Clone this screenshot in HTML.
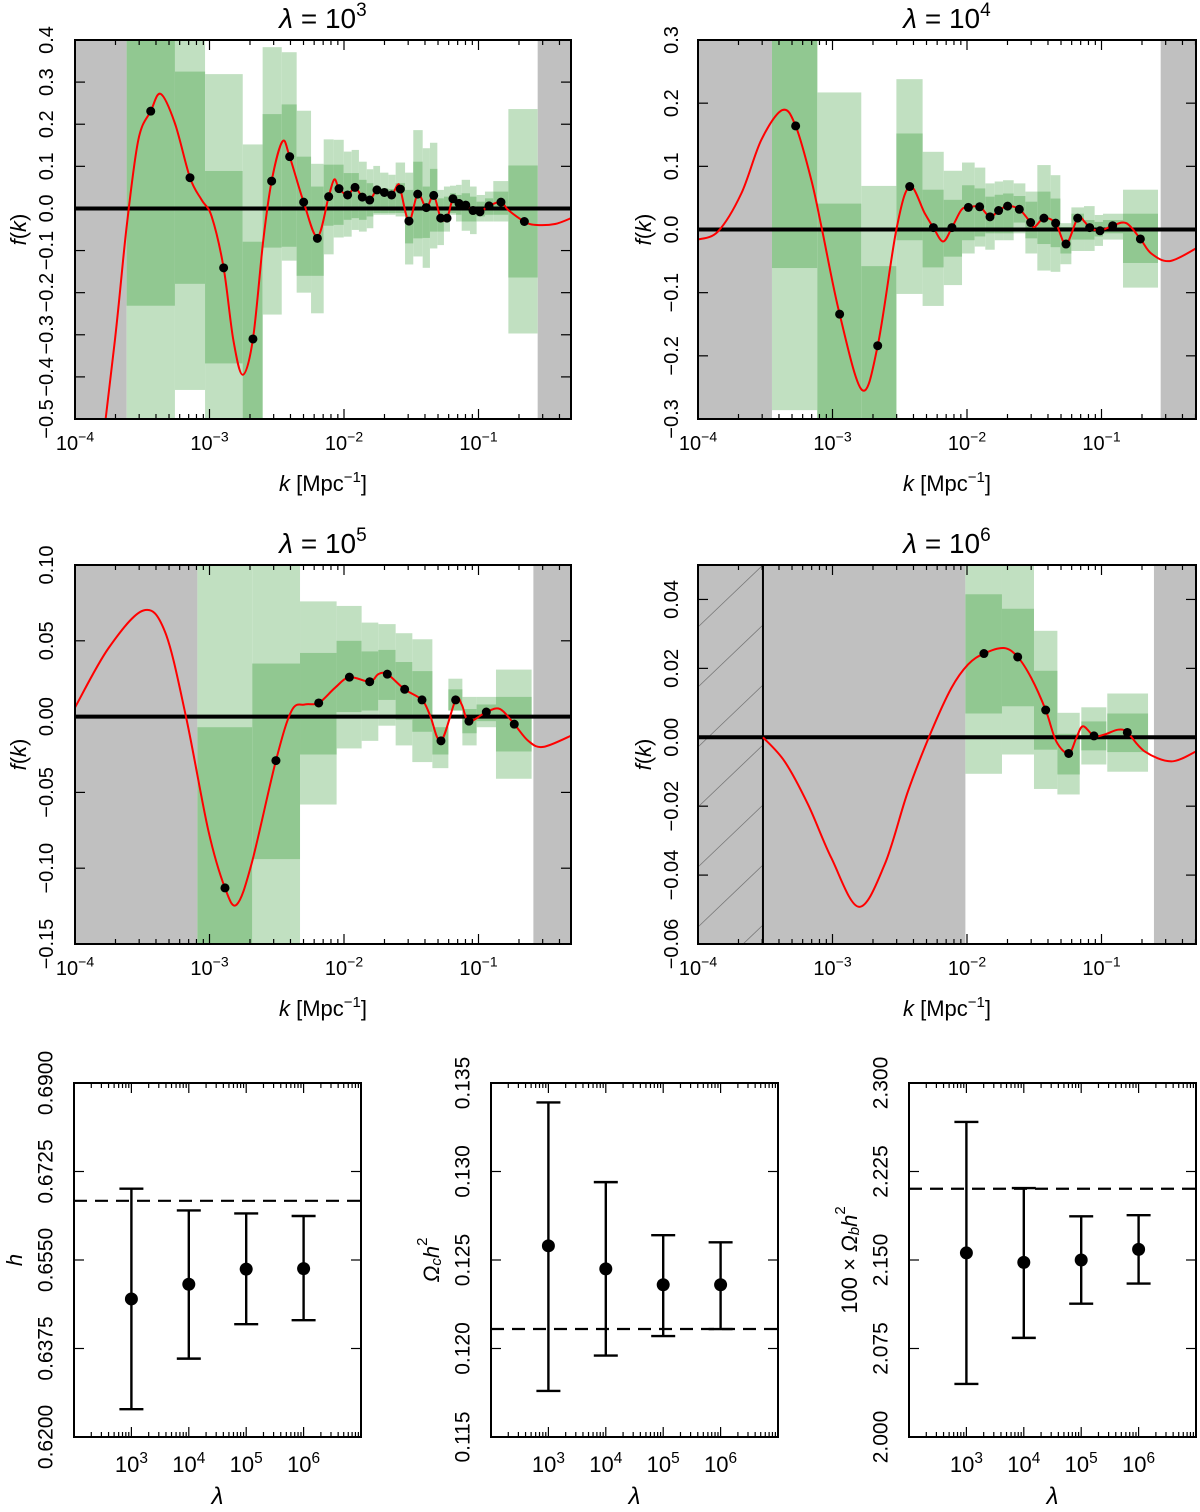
<!DOCTYPE html>
<html><head><meta charset="utf-8"><title>f(k) reconstructions</title>
<style>
html,body{margin:0;padding:0;background:#fff;}
svg{display:block;font-family:"Liberation Sans","DejaVu Sans",sans-serif;}
</style></head>
<body>
<svg id="fig" width="1200" height="1512" viewBox="0 0 1200 1512" xmlns="http://www.w3.org/2000/svg">
<rect x="0" y="0" width="1200" height="1512" fill="#fff"/>
</svg>
<script>
// ---------- Panel 1 (lambda = 1e3) ----------
const p1BinLo=[-3.616,-3.257,-3.033,-2.753,-2.605,-2.463,-2.352,-2.245,-2.151,-2.077,-2.002,-1.943,-1.889,-1.831,-1.782,-1.732,-1.670,-1.616,-1.546,-1.485,-1.415,-1.361,-1.306,-1.257,-1.212,-1.167,-1.125,-1.063,-1.014,-0.952,-0.890,-0.778];
const p1BinHi=[-3.257,-3.033,-2.753,-2.605,-2.463,-2.352,-2.245,-2.151,-2.077,-2.002,-1.943,-1.889,-1.831,-1.782,-1.732,-1.670,-1.616,-1.546,-1.485,-1.415,-1.361,-1.306,-1.257,-1.212,-1.167,-1.125,-1.063,-1.014,-0.952,-0.890,-0.778,-0.560];
const p1Lo2=[-0.55,-0.431,-0.55,-0.55,-0.252,-0.124,-0.200,-0.249,-0.109,-0.069,-0.067,-0.051,-0.055,-0.047,-0.015,-0.015,-0.015,-0.019,-0.133,-0.114,-0.141,-0.095,-0.087,-0.055,-0.015,-0.031,-0.053,-0.061,-0.031,-0.031,-0.031,-0.297];
const p1Lo1=[-0.231,-0.179,-0.368,-0.55,-0.093,-0.091,-0.160,-0.160,-0.041,-0.039,-0.027,-0.023,-0.027,-0.019,-0.011,-0.011,-0.011,-0.011,-0.083,-0.071,-0.070,-0.055,-0.055,-0.031,-0.011,-0.015,-0.031,-0.031,-0.019,-0.015,-0.015,-0.164];
const p1Hi1=[0.45,0.325,0.089,-0.079,0.224,0.247,0.123,0.052,0.104,0.104,0.084,0.084,0.068,0.060,0.052,0.048,0.046,0.060,0.044,0.111,0.052,0.094,0.024,0.028,0.036,0.032,0.036,0.028,0.016,0.024,0.040,0.102];
const p1Hi2=[0.45,0.45,0.319,0.152,0.383,0.371,0.232,0.106,0.164,0.163,0.135,0.139,0.111,0.093,0.101,0.085,0.080,0.109,0.085,0.186,0.143,0.156,0.044,0.052,0.054,0.056,0.068,0.052,0.032,0.040,0.065,0.236];
const p1PtK=[-3.437,-3.145,-2.895,-2.677,-2.538,-2.404,-2.300,-2.198,-2.114,-2.037,-1.973,-1.918,-1.864,-1.809,-1.755,-1.700,-1.646,-1.581,-1.517,-1.452,-1.388,-1.333,-1.281,-1.234,-1.190,-1.145,-1.095,-1.041,-0.989,-0.922,-0.833,-0.659];
const p1PtF=[0.231,0.073,-0.141,-0.310,0.065,0.123,0.015,-0.071,0.028,0.047,0.032,0.050,0.027,0.020,0.044,0.038,0.032,0.046,-0.030,0.034,0.002,0.031,-0.023,-0.023,0.023,0.012,0.008,-0.005,-0.008,0.006,0.015,-0.031];
const p1CurveK=[-3.851,-3.703,-3.616,-3.529,-3.437,-3.363,-3.257,-3.145,-3.058,-2.984,-2.895,-2.823,-2.753,-2.677,-2.600,-2.538,-2.458,-2.404,-2.300,-2.198,-2.114,-2.072,-2.037,-1.973,-1.918,-1.864,-1.809,-1.755,-1.700,-1.646,-1.601,-1.581,-1.517,-1.452,-1.388,-1.333,-1.281,-1.234,-1.190,-1.145,-1.095,-1.041,-0.989,-0.922,-0.833,-0.778,-0.659,-0.580,-0.431,-0.297];
const p1CurveF=[-0.708,-0.312,-0.043,0.163,0.231,0.272,0.202,0.073,0.020,-0.019,-0.141,-0.312,-0.395,-0.310,-0.075,0.065,0.159,0.123,0.015,-0.067,0.028,0.069,0.047,0.032,0.050,0.027,0.020,0.044,0.038,0.032,0.056,0.046,-0.030,0.034,0.002,0.031,-0.023,-0.023,0.023,0.012,0.008,-0.005,-0.008,0.006,0.015,-0.004,-0.031,-0.039,-0.037,-0.021];
const p1YTicks=[-0.5,-0.4,-0.3,-0.2,-0.1,0.0,0.1,0.2,0.3,0.4];
const p1YLabels=["−0.5","−0.4","−0.3","−0.2","−0.1","0.0","0.1","0.2","0.3","0.4"];

// ---------- Panel 2 (lambda = 1e4) ----------
const p2BinLo=[-3.450,-3.113,-2.786,-2.525,-2.330,-2.173,-2.037,-1.943,-1.864,-1.794,-1.732,-1.653,-1.566,-1.477,-1.378,-1.306,-1.224,-1.130,-1.051,-0.989,-0.840];
const p2BinHi=[-3.113,-2.786,-2.525,-2.330,-2.173,-2.037,-1.943,-1.864,-1.794,-1.732,-1.653,-1.566,-1.477,-1.378,-1.306,-1.224,-1.130,-1.051,-0.989,-0.840,-0.580];
const p2Lo2=[-0.286,-0.35,-0.35,-0.102,-0.121,-0.088,-0.038,-0.027,-0.032,-0.017,-0.017,-0.006,-0.038,-0.065,-0.067,-0.055,-0.034,-0.034,-0.026,-0.016,-0.092];
const p2Lo1=[-0.061,-0.35,-0.35,-0.017,-0.060,-0.043,-0.017,-0.011,-0.006,-0.006,-0.006,0.011,-0.014,-0.023,-0.028,-0.038,-0.016,-0.016,-0.011,-0.006,-0.053];
const p2Hi1=[0.35,0.041,-0.058,0.152,0.063,0.047,0.070,0.065,0.052,0.055,0.057,0.053,0.044,0.060,0.049,0.004,0.025,0.015,0.012,0.015,0.025];
const p2Hi2=[0.35,0.217,0.069,0.238,0.123,0.093,0.106,0.098,0.073,0.076,0.078,0.073,0.060,0.102,0.086,0.010,0.035,0.037,0.023,0.025,0.063];
const p2PtK=[-3.274,-2.947,-2.664,-2.426,-2.250,-2.112,-1.990,-1.906,-1.829,-1.765,-1.698,-1.611,-1.527,-1.428,-1.341,-1.264,-1.177,-1.088,-1.011,-0.917,-0.711];
const p2PtF=[0.164,-0.134,-0.184,0.068,0.003,0.003,0.035,0.036,0.020,0.030,0.037,0.032,0.011,0.018,0.010,-0.023,0.018,0.003,-0.002,0.006,-0.015];
const p2CurveK=[-4.0,-3.851,-3.678,-3.529,-3.373,-3.274,-3.157,-3.078,-2.947,-2.781,-2.664,-2.525,-2.426,-2.315,-2.250,-2.178,-2.112,-2.042,-1.990,-1.906,-1.829,-1.765,-1.698,-1.611,-1.527,-1.497,-1.428,-1.341,-1.264,-1.177,-1.125,-1.088,-1.011,-0.917,-0.815,-0.711,-0.630,-0.493,-0.297];
const p2CurveF=[-0.016,-0.003,0.057,0.142,0.189,0.164,0.078,0.000,-0.134,-0.254,-0.184,0.000,0.068,0.026,0.003,-0.019,0.003,0.031,0.035,0.036,0.020,0.030,0.037,0.032,0.011,0.004,0.018,0.010,-0.023,0.018,0.012,0.003,-0.002,0.006,0.010,-0.015,-0.038,-0.050,-0.030];
const p2YTicks=[-0.3,-0.2,-0.1,0.0,0.1,0.2,0.3];
const p2YLabels=["−0.3","−0.2","−0.1","0.0","0.1","0.2","0.3"];

// ---------- Panel 3 (lambda = 1e5) ----------
const p3BinLo=[-3.090,-2.682,-2.327,-2.055,-1.869,-1.745,-1.616,-1.492,-1.343,-1.224,-1.120,-1.014,-0.870];
const p3BinHi=[-2.682,-2.327,-2.055,-1.869,-1.745,-1.616,-1.492,-1.343,-1.224,-1.120,-1.014,-0.870,-0.605];
const p3Lo2=[-0.17,-0.17,-0.058,-0.021,-0.016,-0.006,-0.019,-0.030,-0.034,0.004,-0.019,-0.007,-0.041];
const p3Lo1=[-0.17,-0.094,-0.025,0.003,0.004,0.011,-0.002,-0.010,-0.025,0.004,-0.011,-0.003,-0.023];
const p3Hi1=[-0.007,0.035,0.042,0.050,0.043,0.044,0.036,0.030,-0.007,0.018,0.005,0.008,0.013];
const p3Hi2=[0.12,0.12,0.076,0.073,0.062,0.061,0.055,0.051,-0.001,0.025,0.013,0.013,0.031];
const p3PtK=[-2.885,-2.506,-2.188,-1.960,-1.809,-1.678,-1.549,-1.420,-1.279,-1.170,-1.071,-0.942,-0.734];
const p3PtF=[-0.113,-0.029,0.009,0.026,0.023,0.028,0.018,0.011,-0.016,0.011,-0.003,0.003,-0.005];
const p3CurveK=[-4.0,-3.752,-3.492,-3.331,-3.175,-3.009,-2.885,-2.798,-2.687,-2.506,-2.389,-2.290,-2.188,-2.067,-1.960,-1.809,-1.745,-1.678,-1.549,-1.420,-1.361,-1.279,-1.170,-1.125,-1.071,-0.942,-0.840,-0.734,-0.630,-0.518,-0.297];
const p3CurveF=[0.006,0.045,0.070,0.056,0.000,-0.075,-0.113,-0.124,-0.097,-0.029,0.004,0.008,0.009,0.019,0.026,0.023,0.028,0.028,0.018,0.011,0.001,-0.016,0.011,0.008,-0.003,0.003,0.005,-0.005,-0.016,-0.020,-0.012];
const p3YTicks=[-0.15,-0.10,-0.05,0.00,0.05,0.10];
const p3YLabels=["−0.15","−0.10","−0.05","0.00","0.05","0.10"];

// ---------- Panel 4 (lambda = 1e6) ----------
const p4BinLo=[-2.012,-1.740,-1.502,-1.328,-1.150,-0.957];
const p4BinHi=[-1.740,-1.502,-1.328,-1.162,-0.964,-0.654];
const p4Lo2=[-0.0106,-0.0050,-0.0150,-0.0166,-0.0079,-0.0100];
const p4Lo1=[0.0069,0.0090,-0.0036,-0.0108,-0.0038,-0.0043];
const p4Hi1=[0.0415,0.0373,0.0193,0.0010,0.0046,0.0069];
const p4Hi2=[0.06,0.06,0.0309,0.0071,0.0087,0.0127];
const p4PtK=[-1.874,-1.623,-1.415,-1.244,-1.056,-0.808];
const p4PtF=[0.0243,0.0233,0.0079,-0.0047,0.0004,0.0014];
const p4CurveK=[-3.517,-3.356,-3.182,-3.009,-2.805,-2.612,-2.439,-2.265,-2.116,-1.993,-1.874,-1.725,-1.623,-1.522,-1.415,-1.336,-1.244,-1.187,-1.138,-1.056,-0.977,-0.877,-0.808,-0.679,-0.481,-0.297];
const p4CurveF=[0.000,-0.0070,-0.0195,-0.035,-0.0492,-0.0369,-0.0157,0.0017,0.0143,0.0211,0.0243,0.0259,0.0233,0.0172,0.0079,-0.0012,-0.0047,-0.0002,0.0032,0.0004,0.0008,0.0022,0.0014,-0.0041,-0.0070,-0.0041];
const p4YTicks=[-0.06,-0.04,-0.02,0.00,0.02,0.04];
const p4YLabels=["−0.06","−0.04","−0.02","0.00","0.02","0.04"];

// ---------- Bottom panels ----------
const lambdaExp=[3,4,5,6];
const hMean=[0.6473,0.6502,0.6532,0.6533];
const hLow=[0.6255,0.6355,0.6423,0.6431];
const hHigh=[0.6691,0.6648,0.6642,0.6637];
const hFiducial=0.6667;
const hTicks=[0.62,0.6375,0.655,0.6725,0.69];
const hTickLabels=["0.6200","0.6375","0.6550","0.6725","0.6900"];
const ocMean=[0.1258,0.1245,0.1236,0.1236];
const ocLow=[0.1176,0.1196,0.1207,0.1211];
const ocHigh=[0.1339,0.1294,0.1264,0.1260];
const ocFiducial=0.1211;
const ocTicks=[0.115,0.120,0.125,0.130,0.135];
const ocTickLabels=["0.115","0.120","0.125","0.130","0.135"];
const obMean=[2.156,2.148,2.150,2.159];
const obLow=[2.045,2.084,2.113,2.130];
const obHigh=[2.267,2.211,2.187,2.188];
const obFiducial=2.2104;
const obTicks=[2.0,2.075,2.15,2.225,2.3];
const obTickLabels=["2.000","2.075","2.150","2.225","2.300"];

const NS="http://www.w3.org/2000/svg";
const svg=document.getElementById("fig");
function mk(parent,tag,attrs){const e=document.createElementNS(NS,tag);for(const k in attrs)e.setAttribute(k,attrs[k]);parent.appendChild(e);return e;}
function crPath(pts){let d="M"+pts[0][0].toFixed(2)+","+pts[0][1].toFixed(2);
 for(let i=0;i<pts.length-1;i++){const p0=pts[i-1]||pts[i],p1=pts[i],p2=pts[i+1],p3=pts[i+2]||pts[i+1];
  const c1x=p1[0]+(p2[0]-p0[0])/6,c1y=p1[1]+(p2[1]-p0[1])/6,c2x=p2[0]-(p3[0]-p1[0])/6,c2y=p2[1]-(p3[1]-p1[1])/6;
  d+=" C"+c1x.toFixed(2)+","+c1y.toFixed(2)+" "+c2x.toFixed(2)+","+c2y.toFixed(2)+" "+p2[0].toFixed(2)+","+p2[1].toFixed(2);}
 return d;}
function supText(parent,x,y,base,sup,size,anchor){
 const t=mk(parent,"text",{x:x,y:y,"font-size":size,"text-anchor":anchor||"middle",fill:"#000"});
 const a=document.createElementNS(NS,"tspan");a.textContent=base;t.appendChild(a);
 const b=document.createElementNS(NS,"tspan");b.setAttribute("dy",-size*0.42);b.setAttribute("font-size",size*0.7);b.textContent=sup;t.appendChild(b);
 return t;}

function drawK(c){
 const g=mk(svg,"g",{});
 
 
 const DEC=134.5;
 const xs=l=>c.x0+(l+4)*DEC;
 const ys=f=>c.y1-(f-c.fmin)/(c.fmax-c.fmin)*(c.y1-c.y0);
 const cid="clip-"+c.name;
 const cp=mk(g,"clipPath",{id:cid});mk(cp,"rect",{x:c.x0,y:c.y0,width:c.x1-c.x0,height:c.y1-c.y0});
 const area=mk(g,"g",{"clip-path":"url(#"+cid+")"});
 
 
 // gray excluded regions
 const gl=mk(area,"rect",{x:c.x0,y:c.y0,width:xs(c.grayL)-c.x0,height:c.y1-c.y0,fill:"#c0c0c0"});
 
 
 const gr=mk(area,"rect",{x:xs(c.grayR),y:c.y0,width:c.x1-xs(c.grayR),height:c.y1-c.y0,fill:"#c0c0c0"});
 
 
 if(c.hatch!==undefined){
  const hx=xs(c.hatch);
  const hc=mk(g,"clipPath",{id:cid+"h"});mk(hc,"rect",{x:c.x0,y:c.y0,width:hx-c.x0,height:c.y1-c.y0});
  const hg=mk(area,"g",{"clip-path":"url(#"+cid+"h)",stroke:"#777","stroke-width":0.8});
  
  
  for(let yy=c.y0-120;yy<c.y1+120;yy+=60){mk(hg,"line",{x1:c.x0,y1:yy+62,x2:hx,y2:yy});}
 }
 // bins
 for(let i=0;i<c.binLo.length;i++){
  const xa=xs(c.binLo[i]),xb=xs(c.binHi[i]);
  const r2=mk(area,"rect",{x:xa,y:ys(c.hi2[i]),width:xb-xa,height:ys(c.lo2[i])-ys(c.hi2[i]),fill:"#c1e0c1"});
  
  
  const r1=mk(area,"rect",{x:xa,y:ys(c.hi1[i]),width:xb-xa,height:ys(c.lo1[i])-ys(c.hi1[i]),fill:"#91c891"});
  
  
 }
 if(c.hatch!==undefined){
  const vl=mk(area,"line",{x1:xs(c.hatch),y1:c.y0,x2:xs(c.hatch),y2:c.y1,stroke:"#000","stroke-width":2});
  
  
 }
 const z=mk(area,"line",{x1:c.x0,y1:ys(0),x2:c.x1,y2:ys(0),stroke:"#000","stroke-width":4});
 
 
 const pts=c.curveK.map((k,i)=>[xs(k),ys(c.curveF[i])]);
 const cv=mk(area,"path",{d:crPath(pts),fill:"none",stroke:"#ff0000","stroke-width":2});
 
 
 for(let i=0;i<c.ptK.length;i++){
  const p=mk(area,"circle",{cx:xs(c.ptK[i]),cy:ys(c.ptF[i]),r:4.5,fill:"#000"});
  
  
 }
 // frame
 const fr=mk(g,"rect",{x:c.x0,y:c.y0,width:c.x1-c.x0,height:c.y1-c.y0,fill:"none",stroke:"#000","stroke-width":2});
 
 
 // x ticks
 const tg=mk(g,"g",{stroke:"#000","stroke-width":1.2});
 
 
 for(let d=-4;d<=0;d++){for(let m=1;m<=9;m++){const l=d+Math.log10(m);const x=xs(l);if(x<c.x0-0.5||x>c.x1+0.5)continue;
  const len=m===1?10:5;mk(tg,"line",{x1:x,y1:c.y1,x2:x,y2:c.y1-len});mk(tg,"line",{x1:x,y1:c.y0,x2:x,y2:c.y0+len});}}
 for(let d=-4;d<=-1;d++){const lab=supText(g,xs(d),c.y1+31,"10","−"+(-d),20);
  
  }
 for(let i=0;i<c.yticks.length;i++){const y=ys(c.yticks[i]);
  mk(tg,"line",{x1:c.x0,y1:y,x2:c.x0+10,y2:y});mk(tg,"line",{x1:c.x1,y1:y,x2:c.x1-10,y2:y});
  const t=mk(g,"text",{x:0,y:0,transform:"translate("+c.ylabX+","+y+") rotate(-90)","font-size":20,"text-anchor":"middle","dominant-baseline":"central"});
  t.textContent=c.ylabels[i];
  
  }
 // titles / axis labels
 const cx=(c.x0+c.x1)/2;
 const ti=mk(g,"text",{x:cx,y:c.y0-12,"font-size":28,"text-anchor":"middle"});
 const t1=document.createElementNS(NS,"tspan");t1.setAttribute("font-style","italic");t1.textContent="λ";ti.appendChild(t1);
 const t2=document.createElementNS(NS,"tspan");t2.textContent=" = 10";ti.appendChild(t2);
 const t3=document.createElementNS(NS,"tspan");t3.setAttribute("dy",-12);t3.setAttribute("font-size",19);t3.textContent=c.exp;ti.appendChild(t3);
 
 
 const xl=mk(g,"text",{x:cx,y:c.y1+72,"font-size":22,"text-anchor":"middle"});
 const a1=document.createElementNS(NS,"tspan");a1.setAttribute("font-style","italic");a1.textContent="k";xl.appendChild(a1);
 const a2=document.createElementNS(NS,"tspan");a2.textContent=" [Mpc";xl.appendChild(a2);
 const a3=document.createElementNS(NS,"tspan");a3.setAttribute("dy",-9);a3.setAttribute("font-size",15);a3.textContent="−1";xl.appendChild(a3);
 const a4=document.createElementNS(NS,"tspan");a4.setAttribute("dy",9);a4.textContent="]";xl.appendChild(a4);
 
 
 const yl=mk(g,"text",{x:0,y:0,transform:"translate("+c.ytitleX+","+((c.y0+c.y1)/2)+") rotate(-90)","font-size":22,"text-anchor":"middle","dominant-baseline":"central"});
 const b1=document.createElementNS(NS,"tspan");b1.setAttribute("font-style","italic");b1.textContent="f";yl.appendChild(b1);
 const b2=document.createElementNS(NS,"tspan");b2.textContent="(";yl.appendChild(b2);
 const b3=document.createElementNS(NS,"tspan");b3.setAttribute("font-style","italic");b3.textContent="k";yl.appendChild(b3);
 const b4=document.createElementNS(NS,"tspan");b4.textContent=")";yl.appendChild(b4);
 
 
}

drawK({name:"panel-lambda-1e3",x0:75,x1:571,y0:40,y1:419,fmin:-0.5,fmax:0.4,grayL:-3.616,grayR:-0.560,exp:"3",ylabX:47,ytitleX:18,
 binLo:p1BinLo,binHi:p1BinHi,lo2:p1Lo2,lo1:p1Lo1,hi1:p1Hi1,hi2:p1Hi2,ptK:p1PtK,ptF:p1PtF,curveK:p1CurveK,curveF:p1CurveF,yticks:p1YTicks,ylabels:p1YLabels});
drawK({name:"panel-lambda-1e4",x0:698,x1:1196,y0:40,y1:419,fmin:-0.3,fmax:0.3,grayL:-3.450,grayR:-0.560,exp:"4",ylabX:672,ytitleX:643,
 binLo:p2BinLo,binHi:p2BinHi,lo2:p2Lo2,lo1:p2Lo1,hi1:p2Hi1,hi2:p2Hi2,ptK:p2PtK,ptF:p2PtF,curveK:p2CurveK,curveF:p2CurveF,yticks:p2YTicks,ylabels:p2YLabels});
drawK({name:"panel-lambda-1e5",x0:75,x1:571,y0:565,y1:944,fmin:-0.15,fmax:0.10,grayL:-3.090,grayR:-0.592,exp:"5",ylabX:47,ytitleX:18,
 binLo:p3BinLo,binHi:p3BinHi,lo2:p3Lo2,lo1:p3Lo1,hi1:p3Hi1,hi2:p3Hi2,ptK:p3PtK,ptF:p3PtF,curveK:p3CurveK,curveF:p3CurveF,yticks:p3YTicks,ylabels:p3YLabels});
drawK({name:"panel-lambda-1e6",x0:698,x1:1196,y0:565,y1:944,fmin:-0.06,fmax:0.05,grayL:-2.012,grayR:-0.610,hatch:-3.517,exp:"6",ylabX:672,ytitleX:643,
 binLo:p4BinLo,binHi:p4BinHi,lo2:p4Lo2,lo1:p4Lo1,hi1:p4Hi1,hi2:p4Hi2,ptK:p4PtK,ptF:p4PtF,curveK:p4CurveK,curveF:p4CurveF,yticks:p4YTicks,ylabels:p4YLabels});

function drawP(c){
 const g=mk(svg,"g",{});
 
 
 const y0=1083,y1=1437,x0=c.x0,x1=c.x0+287;
 const DEC=57.4;
 const xs=e=>x0+(e-2)*DEC;
 const ys=v=>y1-(v-c.vmin)/(c.vmax-c.vmin)*(y1-y0);
 const fr=mk(g,"rect",{x:x0,y:y0,width:x1-x0,height:y1-y0,fill:"none",stroke:"#000","stroke-width":2});
 
 
 const tg=mk(g,"g",{stroke:"#000","stroke-width":1.2});
 
 
 for(let d=2;d<=6;d++){for(let m=1;m<=9;m++){const x=xs(d+Math.log10(m));const len=m===1?10:5;
  mk(tg,"line",{x1:x,y1:y1,x2:x,y2:y1-len});mk(tg,"line",{x1:x,y1:y0,x2:x,y2:y0+len});}}
 for(let d=3;d<=6;d++){const lab=supText(g,xs(d),1472,"10",String(d),22);
  
  }
 for(let i=0;i<c.ticks.length;i++){const y=ys(c.ticks[i]);
  mk(tg,"line",{x1:x0,y1:y,x2:x0+10,y2:y});mk(tg,"line",{x1:x1,y1:y,x2:x1-10,y2:y});
  const t=mk(g,"text",{x:0,y:0,transform:"translate("+(x0-28)+","+y+") rotate(-90)","font-size":21,"text-anchor":"middle","dominant-baseline":"central"});
  t.textContent=c.labels[i];
  
  }
 const dl=mk(g,"line",{x1:x0,y1:ys(c.fid),x2:x1,y2:ys(c.fid),stroke:"#000","stroke-width":2.2,"stroke-dasharray":"13,8"});
 
 
 for(let i=0;i<lambdaExp.length;i++){const x=xs(lambdaExp[i]);
  const eb=mk(g,"path",{d:"M"+x+","+ys(c.lo[i])+"V"+ys(c.hi[i])+"M"+(x-12)+","+ys(c.lo[i])+"H"+(x+12)+"M"+(x-12)+","+ys(c.hi[i])+"H"+(x+12),stroke:"#000","stroke-width":2.4,fill:"none"});
  
  
  const p=mk(g,"circle",{cx:x,cy:ys(c.mean[i]),r:6.5,fill:"#000"});
  
  }
 const xl=mk(g,"text",{x:(x0+x1)/2,y:1504,"font-size":24,"text-anchor":"middle","font-style":"italic"});
 xl.textContent="λ";
 
 
 const yl=mk(g,"text",{x:0,y:0,transform:"translate("+(x0-60)+","+((y0+y1)/2)+") rotate(-90)","font-size":22,"text-anchor":"middle","dominant-baseline":"central"});
 c.title(yl);
 
 
}
function ts(t,txt,o){const s=document.createElementNS(NS,"tspan");for(const k in (o||{}))s.setAttribute(k,o[k]);s.textContent=txt;t.appendChild(s);}
drawP({name:"panel-h",x0:74,vmin:0.62,vmax:0.69,ticks:hTicks,labels:hTickLabels,fid:hFiducial,mean:hMean,lo:hLow,hi:hHigh,
 title:t=>{ts(t,"h",{"font-style":"italic"});}});
drawP({name:"panel-omega-c",x0:491,vmin:0.115,vmax:0.135,ticks:ocTicks,labels:ocTickLabels,fid:ocFiducial,mean:ocMean,lo:ocLow,hi:ocHigh,
 title:t=>{ts(t,"Ω",{"font-style":"italic"});ts(t,"c",{"font-style":"italic","font-size":15,dy:5});ts(t,"h",{"font-style":"italic",dy:-5});ts(t,"2",{"font-size":15,dy:-9});}});
drawP({name:"panel-omega-b",x0:909,vmin:2.0,vmax:2.3,ticks:obTicks,labels:obTickLabels,fid:obFiducial,mean:obMean,lo:obLow,hi:obHigh,
 title:t=>{ts(t,"100 × ");ts(t,"Ω",{"font-style":"italic"});ts(t,"b",{"font-style":"italic","font-size":15,dy:5});ts(t,"h",{"font-style":"italic",dy:-5});ts(t,"2",{"font-size":15,dy:-9});}});
</script>
</body></html>
